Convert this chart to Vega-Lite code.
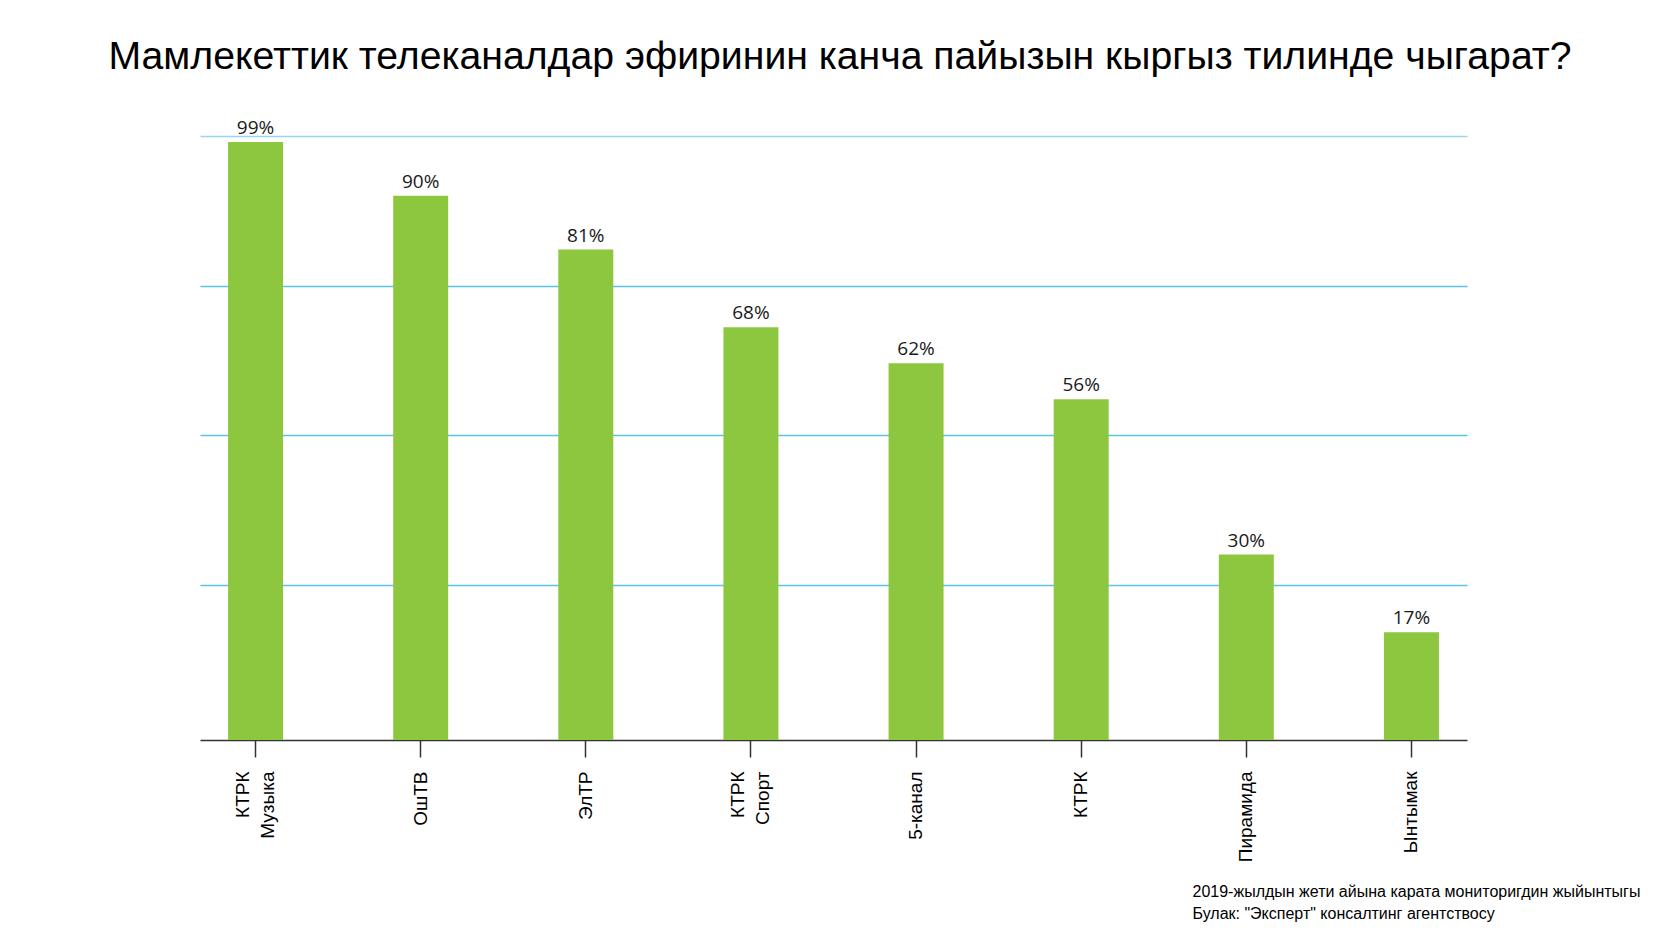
{
  "$schema": "https://vega.github.io/schema/vega-lite/v6.json",
  "autosize": "none",
  "padding": {"left": 200, "top": 136, "right": 211, "bottom": 198},
  "width": 1256,
  "height": 604,
  "background": "white",
  "config": {"view": {"stroke": null}},
  "title": {
    "text": "Мамлекеттик телеканалдар эфиринин канча пайызын кыргыз тилинде чыгарат?",
    "font": "Liberation Sans",
    "fontSize": 39.2,
    "fontWeight": "normal",
    "color": "#000000",
    "anchor": "middle",
    "baseline": "alphabetic",
    "offset": 11,
    "dx": 12
  },
  "data": {
    "values": [
      {"channel": "КТРК|Музыка", "value": 0.99},
      {"channel": "ОшТВ", "value": 0.90},
      {"channel": "ЭлТР", "value": 0.81},
      {"channel": "КТРК|Спорт", "value": 0.68},
      {"channel": "5-канал", "value": 0.62},
      {"channel": "КТРК", "value": 0.56},
      {"channel": "Пирамида", "value": 0.30},
      {"channel": "Ынтымак", "value": 0.17}
    ]
  },
  "encoding": {
    "x": {
      "field": "channel",
      "type": "nominal",
      "sort": null,
      "scale": {"paddingInner": 0.667, "paddingOuter": 0.17, "range": [0, 1267]},
      "axis": {
        "title": ["2019-жылдын жети айына карата мониторигдин жыйынтыгы", "Булак: \"Эксперт\" консалтинг агентствосу"],
        "titleX": 992,
        "titleY": 156,
        "titleAlign": "left",
        "titleBaseline": "alphabetic",
        "titleFont": "Liberation Sans",
        "titleFontSize": 16,
        "titleFontWeight": "normal",
        "titleColor": "#000000",
        "titleLineHeight": 22,
        "labelAngle": 270,
        "labelAlign": "right",
        "labelBaseline": "middle",
        "labelPadding": 14,
        "labelOffset": {"condition": {"test": "indexof(datum.value, '|') >= 0", "value": -12.5}, "value": 0},
        "labelFont": "Liberation Sans",
        "labelFontSize": 19,
        "labelLineHeight": 25,
        "labelColor": "#000000",
        "labelLimit": 0,
        "labelExpr": "split(datum.label, '|')",
        "tickSize": 17,
        "tickColor": "#333333",
        "tickWidth": 1.5,
        "domainColor": "#333333",
        "domainWidth": 1.5
      }
    }
  },
  "layer": [
    {
      "mark": {"type": "bar", "color": "#8dc63f"},
      "encoding": {
        "y": {
          "field": "value",
          "type": "quantitative",
          "scale": {"domain": [-0.01, 1], "nice": false, "zero": false},
          "axis": {
            "values": [0.25, 0.5, 0.75, 1],
            "grid": true,
            "gridColor": {"condition": {"test": "datum.value === 1", "value": "#96d6f0"}, "value": "#5bc3e6"},
            "gridWidth": 1.5,
            "domain": false,
            "ticks": false,
            "labels": false,
            "title": null
          }
        },
        "y2": {"datum": -0.01}
      }
    },
    {
      "mark": {"type": "text", "baseline": "alphabetic", "dy": -8, "font": "Open Sans", "fontSize": 19, "color": "#1a1a1a"},
      "encoding": {
        "y": {"field": "value", "type": "quantitative"},
        "text": {"field": "value", "type": "quantitative", "format": ".0%"}
      }
    }
  ]
}
